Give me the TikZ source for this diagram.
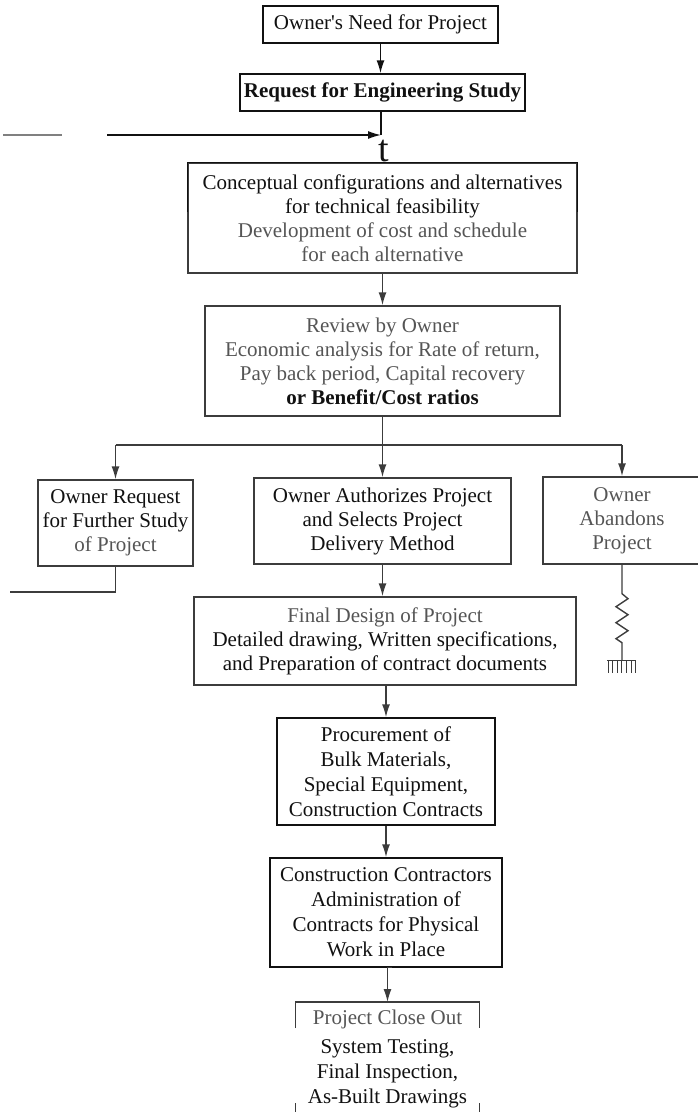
\documentclass[tikz,border=0pt]{standalone}
\usepackage{fontspec}
\setmainfont{Liberation Serif}
\usetikzlibrary{arrows.meta}
\definecolor{ink}{HTML}{111111}
\definecolor{dim}{HTML}{555555}
\definecolor{lineg}{HTML}{3C3C3C}
\tikzset{
  box/.style={draw=ink, line width=1.4pt, inner sep=0pt, align=center,
    font=\fontsize{21}{24}\selectfont, text=ink},
  ln/.style={line width=1.4pt},
  arr/.style={line width=1.4pt, -{Latex[length=13pt,width=8pt]}},
}
\begin{document}
\begin{tikzpicture}[x=1pt,y=-1pt]
\useasboundingbox[fill=white] (0,0) rectangle (697,1112);

% nodes
\node[box, minimum width=235pt, minimum height=37pt] (n1) at (380.5,24.5) {Owner\textquotesingle s Need for Project};
\node[box, minimum width=285pt, minimum height=37pt, font=\fontsize{21}{24}\selectfont\bfseries] (n2) at (382.5,92.5) {Request for Engineering Study};
\node[box, draw=lineg, minimum width=389pt, minimum height=110pt] (n3) at (382.5,218)
  {Conceptual configurations and alternatives\\for technical feasibility\\\textcolor{dim}{Development of cost and schedule}\\\textcolor{dim}{for each alternative}};
\node[box, draw=lineg, minimum width=355pt, minimum height=110pt] (n5) at (382.5,361)
  {\textcolor{dim}{Review by Owner}\\\textcolor{dim}{Economic analysis for Rate of return,}\\\textcolor{dim}{Pay back period, Capital recovery}\\\textbf{or Benefit/Cost ratios}};
\node[box, draw=lineg, minimum width=155pt, minimum height=86pt] (nL) at (115.5,523)
  {Owner Request\\for Further Study\\\textcolor{dim}{of Project}};
\node[box, draw=lineg, minimum width=257pt, minimum height=86pt] (nC) at (382.5,521)
  {Owner Authorizes Project\\and Selects Project\\Delivery Method};
\node[box, draw=lineg, text=dim, minimum width=158pt, minimum height=87pt] (nR) at (622,520.5)
  {Owner\\Abandons\\Project};
\node[box, draw=lineg, minimum width=382pt, minimum height=88pt] (nFD) at (385,641)
  {\textcolor{dim}{Final Design of Project}\\Detailed drawing, Written specifications,\\and Preparation of contract documents};
\node[box, minimum width=218pt, minimum height=107pt, font=\fontsize{21}{25}\selectfont] (nP) at (386,771.5)
  {Procurement of\\Bulk Materials,\\Special Equipment,\\Construction Contracts};
\node[box, minimum width=232pt, minimum height=109pt, font=\fontsize{21}{25}\selectfont] (nCC) at (386,912.5)
  {Construction Contractors\\Administration of\\Contracts for Physical\\Work in Place};
\node[box, draw=none, anchor=north, minimum width=183pt, inner ysep=7pt, font=\fontsize{21}{25}\selectfont] (nPC) at (387.5,1002)
  {\textcolor{dim}{Project Close Out}\\[4pt]System Testing,\\Final Inspection,\\As-Built Drawings};
\node[font=\fontsize{38}{38}\selectfont, inner sep=0pt, text=ink] (tt) at (384,151) {t};

% top part of box 3 in black
\coordinate (cut) at (0,212);
\draw[ln, ink] (n3.west |- cut) |- (n3.north east) -- (n3.east |- cut);

% close-out box outline pieces
\draw[ln, lineg] ([yshift=-26pt]nPC.north west) -- (nPC.north west) -- (nPC.north east) -- ([yshift=-26pt]nPC.north east);
\draw[ln, lineg] ([yshift=-101pt]nPC.north west) -- ([yshift=-115pt]nPC.north west);
\draw[ln, lineg] ([yshift=-101pt]nPC.north east) -- ([yshift=-115pt]nPC.north east);

% connectors top
\coordinate (join) at (381,135);
\coordinate (ga) at (3,135);
\coordinate (gb) at (62,135);
\coordinate (ba) at (107,135);
\draw[arr, ink] (n1.south) -- (n1.south |- n2.north);
\draw[ln, ink] (n2.south -| join) -- (join);
\draw[ln, gray] (ga) -- (gb);
\draw[arr, ink] (ba) -- (join);
\draw[ln, ink] (join |- tt.south) -- (join |- n3.north);
\draw[arr, lineg] (n3.south) -- (n3.south |- n5.north);

% bus
\coordinate (bus) at (382.5,445);
\draw[ln, lineg] (n5.south) -- (bus);
\draw[ln, lineg] (nL.north |- bus) -- (nR.north |- bus);
\draw[arr, lineg] (nL.north |- bus) -- (nL.north);
\draw[arr, lineg] (nC.north |- bus) -- (nC.north);
\draw[arr, lineg] (nR.north |- bus) -- (nR.north);

% feedback
\coordinate (fb) at (10,592);
\draw[ln, lineg] (nL.south) |- (fb);

% spring and ground
\draw[ln, lineg] (nR.south) -- ++(0,29) -- ++(6,5) -- ++(-12,8) -- ++(12,8) -- ++(-12,8) -- ++(12,8) -- ++(-12,8) -- ++(6,4) -- ++(0,18) coordinate (gnd);
\draw[ln, lineg] ([xshift=-15pt]gnd) -- ([xshift=14pt]gnd);
\foreach \i in {0,...,6} \draw[line width=0.9pt, lineg] ([xshift=-14pt+\i*4.6pt]gnd) -- ++(0,12);

% lower chain
\draw[arr, lineg] (nC.south) -- (nC.south |- nFD.north);
\draw[arr, lineg] (nFD.south -| nP.north) -- (nP.north);
\draw[arr, lineg] (nP.south) -- (nCC.north);
\draw[arr, lineg, shorten <=6pt] (nCC.south) -- (nCC.south -| nPC.north) -- (nPC.north);
\end{tikzpicture}
\end{document}
